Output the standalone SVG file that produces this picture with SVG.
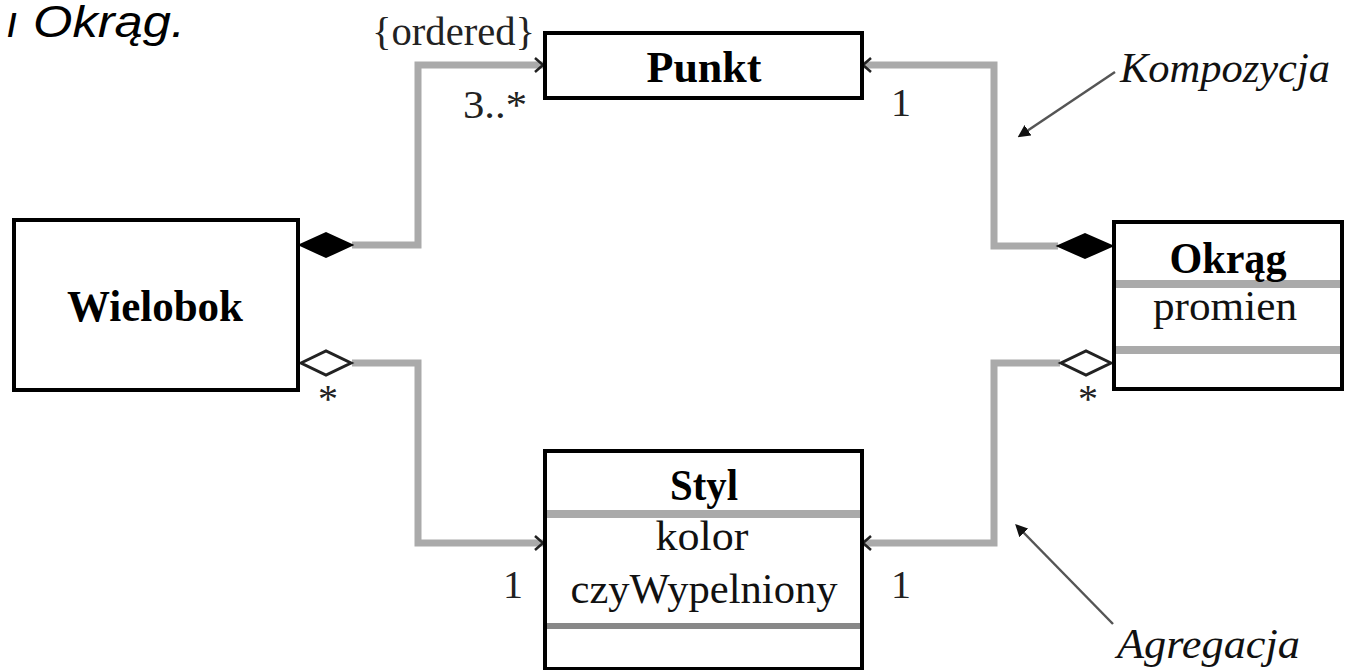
<svg xmlns="http://www.w3.org/2000/svg" width="1348" height="670" viewBox="0 0 1348 670">
<defs>
<style>
.box{fill:#fff;stroke:#000;stroke-width:4}
.sep{stroke:#aaa;stroke-width:8}
.conn{fill:none;stroke:#aaa;stroke-width:7}
.arr{fill:none;stroke:#222;stroke-width:2.5}
.fd{fill:#000;stroke:#000;stroke-width:2}
.od{fill:#fff;stroke:#222;stroke-width:3}
.cls{font-family:"Liberation Serif",serif;font-weight:bold;font-size:44px;fill:#000;text-anchor:middle}
.attr{font-family:"Liberation Serif",serif;font-size:43px;fill:#111;text-anchor:middle}
.lbl{font-family:"Liberation Serif",serif;font-size:40px;fill:#222}
.note{font-family:"Liberation Serif",serif;font-style:italic;font-size:42px;fill:#111}
.ptr{stroke:#555;stroke-width:2.5}
</style>
<marker id="ah" viewBox="0 0 10 10" refX="1" refY="5" markerWidth="5" markerHeight="5" orient="auto-start-reverse">
<path d="M0,0 L10,5 L0,10 z" fill="#111"/>
</marker>
</defs>

<text x="6" y="37" font-family="Liberation Sans, sans-serif" font-style="italic" font-size="44" fill="#000"><tspan x="6">ı</tspan><tspan x="33" textLength="152" lengthAdjust="spacingAndGlyphs">Okrąg.</tspan></text>

<g id="connectors">
<path class="conn" d="M352,245 H418 V65 H543"/>
<path class="conn" d="M1058,246 H994 V65 H863"/>
<path class="conn" d="M352,363 H418 V543 H543"/>
<path class="conn" d="M1060,363 H994 V543 H863"/>
<path class="arr" d="M535,58 L543,65 L535,72"/>
<path class="arr" d="M871,58 L863,65 L871,72"/>
<path class="arr" d="M535,536 L543,543 L535,550"/>
<path class="arr" d="M871,536 L863,543 L871,550"/>
<polygon class="fd" points="300,245 326,233 352,245 326,257"/>
<polygon class="fd" points="1112,246 1085,234 1058,246 1085,258"/>
<polygon class="od" points="301,363 326,351 351,363 326,375"/>
<polygon class="od" points="1111,363 1086,351 1061,363 1086,375"/>
<text class="lbl" x="372" y="45" textLength="163" lengthAdjust="spacingAndGlyphs">{ordered}</text>
<text class="lbl" x="463" y="118" textLength="64" lengthAdjust="spacingAndGlyphs">3..*</text>
<text class="lbl" x="891" y="116">1</text>
<text class="lbl" x="318" y="412" font-size="30">*</text>
<text class="lbl" x="1078" y="412" font-size="30">*</text>
<text class="lbl" x="503" y="598">1</text>
<text class="lbl" x="891" y="598">1</text>
</g>

<g id="notes">
<line class="ptr" x1="1115" y1="72" x2="1027" y2="131" marker-end="url(#ah)"/>
<text class="note" x="1120" y="82" textLength="210" lengthAdjust="spacingAndGlyphs">Kompozycja</text>
<line class="ptr" x1="1113" y1="624" x2="1023" y2="532" marker-end="url(#ah)"/>
<text class="note" x="1117" y="658" textLength="183" lengthAdjust="spacingAndGlyphs">Agregacja</text>
</g>

<g id="Punkt">
<rect class="box" x="545" y="33" width="317" height="65"/>
<text class="cls" x="704" y="82" textLength="115" lengthAdjust="spacingAndGlyphs">Punkt</text>
</g>

<g id="Wielobok">
<rect class="box" x="14" y="220" width="284" height="170"/>
<text class="cls" x="155" y="321" textLength="176" lengthAdjust="spacingAndGlyphs">Wielobok</text>
</g>

<g id="Okrag">
<rect class="box" x="1114" y="222" width="228" height="167"/>
<line class="sep" x1="1116" y1="284" x2="1340" y2="284"/>
<line class="sep" x1="1116" y1="350" x2="1340" y2="350"/>
<text class="cls" x="1228" y="273" textLength="117" lengthAdjust="spacingAndGlyphs">Okrąg</text>
<text class="attr" x="1225" y="320" textLength="144" lengthAdjust="spacingAndGlyphs">promien</text>
</g>

<g id="Styl">
<rect class="box" x="545" y="451" width="317" height="218"/>
<line class="sep" x1="547" y1="514" x2="860" y2="514"/>
<line x1="547" y1="626" x2="860" y2="626" stroke="#888" stroke-width="6"/>
<text class="cls" x="704" y="500" font-size="42" textLength="68" lengthAdjust="spacingAndGlyphs">Styl</text>
<text class="attr" x="702" y="550" textLength="93" lengthAdjust="spacingAndGlyphs">kolor</text>
<text class="attr" x="704" y="603" textLength="267" lengthAdjust="spacingAndGlyphs">czyWypelniony</text>
</g>
</svg>
